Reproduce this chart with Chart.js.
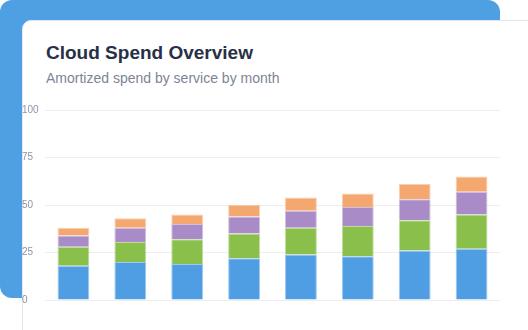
<!DOCTYPE html>
<html>
<head>
<meta charset="utf-8">
<script src="https://cdn.jsdelivr.net/npm/chart.js@4/dist/chart.umd.min.js"></script>
<style>
  html, body { margin: 0; padding: 0; width: 528px; height: 330px; overflow: hidden; background: #ffffff; font-family: "Liberation Sans", Arial, sans-serif; }
  #bg { position: absolute; left: 0; top: 0; width: 500px; height: 298px; background: #4f9fe3; border-radius: 12px; }
  #card { position: absolute; left: 22px; top: 20px; width: 560px; height: 360px; background: #ffffff; border: 1px solid #e2e7ef; border-radius: 9px; box-sizing: border-box; }
  #title { position: absolute; left: 46px; top: 42px; font-size: 19px; font-weight: bold; color: #283046; white-space: nowrap; line-height: 22px; }
  #subtitle { position: absolute; left: 46px; top: 70px; font-size: 14px; color: #7d8496; white-space: nowrap; line-height: 16px; }
  #wrap { position: absolute; left: 22px; top: 104px; width: 478px; height: 202px; }
</style>
</head>
<body>
<div id="bg"></div>
<div id="card"></div>
<div id="title">Cloud Spend Overview</div>
<div id="subtitle">Amortized spend by service by month</div>
<div id="wrap"><canvas id="c"></canvas></div>
<script>
const months = ["Jan", "Feb", "Mar", "Apr", "May", "Jun", "Jul", "Aug"];
const compute  = [18, 20, 19, 22, 24, 23, 26, 27];
const storage  = [10, 10.5, 13, 13, 14, 16, 16, 18];
const database = [6, 7.5, 8, 9, 9, 10, 11, 12];
const network  = [4, 5, 5, 6, 7, 7, 8, 8];
const yTicks = [0, 25, 50, 75, 100];

function ds(label, data, color, border) {
  return { label, data, backgroundColor: color, borderColor: border, borderWidth: 1,
           categoryPercentage: 0.7, barPercentage: 0.8 };
}

new Chart(document.getElementById('c'), {
  type: 'bar',
  data: {
    labels: months,
    datasets: [
      ds('Compute', compute, '#4f9de2', 'rgba(79,157,226,0.55)'),
      ds('Storage', storage, '#8abf4c', 'rgba(138,191,76,0.55)'),
      ds('Database', database, '#a98bc7', 'rgba(169,139,199,0.55)'),
      ds('Network', network, '#f4a870', 'rgba(244,168,112,0.55)')
    ]
  },
  options: {
    responsive: true,
    maintainAspectRatio: false,
    animation: false,
    layout: { padding: 0 },
    plugins: { legend: { display: false }, tooltip: { enabled: false }, title: { display: false } },
    scales: {
      x: { stacked: true, display: false },
      y: {
        stacked: true, min: 0, max: 100,
        afterBuildTicks: (s) => { s.ticks = yTicks.map(v => ({ value: v })); },
        afterFit: (s) => { s.width = 23; },
        border: { display: false },
        grid: { color: '#eeeeee', lineWidth: 1, drawTicks: false },
        ticks: { crossAlign: 'far', padding: 0, color: '#8e94a4', font: { family: 'Liberation Sans', size: 10 } }
      }
    }
  }
});
</script>
</body>
</html>
